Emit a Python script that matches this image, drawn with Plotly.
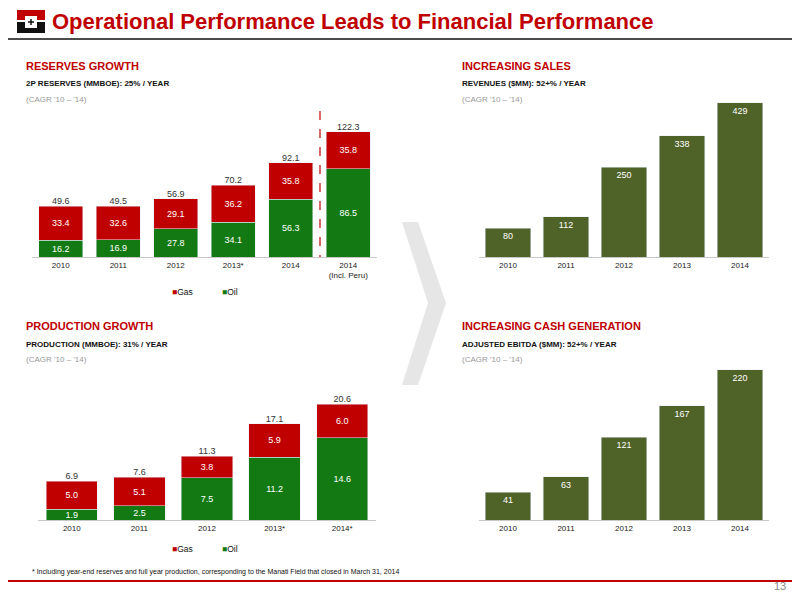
import plotly.graph_objects as go

res_years = ["2010", "2011", "2012", "2013*", "2014", "2014<br>(Incl. Peru)"]
res_oil = [16.2, 16.9, 27.8, 34.1, 56.3, 86.5]
res_gas = [33.4, 32.6, 29.1, 36.2, 35.8, 35.8]
res_tot = [49.6, 49.5, 56.9, 70.2, 92.1, 122.3]

prod_years = ["2010", "2011", "2012", "2013*", "2014*"]
prod_oil = [1.9, 2.5, 7.5, 11.2, 14.6]
prod_gas = [5.0, 5.1, 3.8, 5.9, 6.0]
prod_tot = [6.9, 7.6, 11.3, 17.1, 20.6]

fin_years = ["2010", "2011", "2012", "2013", "2014"]
sales = [80, 112, 250, 338, 429]
ebitda = [41, 63, 121, 167, 220]

RED = "#c00000"; OIL = "#137a13"; OLIVE = "#4f6228"
OFF = 8
W, H = 800 - 2 * OFF, 600 - 2 * OFF
px = lambda x: (x - OFF) / W
py = lambda y: 1 - (y - OFF) / H

fig = go.Figure()

def stacked(xa, ya, cats, oil, gas, tot):
    fig.add_bar(x=cats, y=oil, marker_color=OIL, width=0.76, text=[f"{v:.1f}" for v in oil],
                textposition="inside", insidetextanchor="middle", textfont=dict(color="white", size=9),
                xaxis=xa, yaxis=ya, showlegend=False)
    fig.add_bar(x=cats, y=gas, marker_color=RED, width=0.76, text=[f"{v:.1f}" for v in gas],
                textposition="inside", insidetextanchor="middle", textfont=dict(color="white", size=9),
                xaxis=xa, yaxis=ya, showlegend=False)
    fig.add_scatter(x=cats, y=tot, mode="text", text=[f"{v:.1f}" for v in tot], textposition="top center",
                    textfont=dict(color="#333", size=9), xaxis=xa, yaxis=ya, showlegend=False)

def simple(xa, ya, cats, vals):
    fig.add_bar(x=cats, y=vals, marker_color=OLIVE, width=0.79, text=[str(v) for v in vals],
                textposition="inside", insidetextanchor="end", textfont=dict(color="white", size=9),
                xaxis=xa, yaxis=ya, showlegend=False)

stacked("x", "y", res_years, res_oil, res_gas, res_tot)
simple("x2", "y2", fin_years, sales)
stacked("x3", "y3", prod_years, prod_oil, prod_gas, prod_tot)
simple("x4", "y4", fin_years, ebitda)
fig.update_layout(barmode="stack", uniformtext=dict(minsize=9, mode="show"))

ax = dict(showline=True, linecolor="#c8c8c8", ticks="", tickfont=dict(size=8, color="#222"), fixedrange=True)
ay = dict(visible=False, fixedrange=True)
fig.update_layout(
    xaxis=dict(ax, domain=[px(32), px(377)], anchor="y"),
    yaxis=dict(ay, domain=[py(257), py(110)], range=[0, 143.8], anchor="x"),
    xaxis2=dict(ax, domain=[px(479), px(769)], anchor="y2"),
    yaxis2=dict(ay, domain=[py(257), py(100)], range=[0, 437], anchor="x2"),
    xaxis3=dict(ax, domain=[px(38), px(376)], anchor="y3"),
    yaxis3=dict(ay, domain=[py(520), py(380)], range=[0, 24.9], anchor="x3"),
    xaxis4=dict(ax, domain=[px(479), px(769)], anchor="y4"),
    yaxis4=dict(ay, domain=[py(520), py(365)], range=[0, 227], anchor="x4"),
)

shapes = []
def line(x0, y0, x1, y1, color, w, dash="solid"):
    shapes.append(dict(type="line", xref="paper", yref="paper", x0=px(x0), y0=py(y0), x1=px(x1), y1=py(y1),
                       line=dict(color=color, width=w, dash=dash)))
def rect(x0, y0, x1, y1, color):
    shapes.append(dict(type="rect", xref="paper", yref="paper", x0=px(x0), y0=py(y0), x1=px(x1), y1=py(y1),
                       fillcolor=color, line=dict(width=0)))
line(8, 39, 792, 39, "#111", 1.5)
line(8, 581, 792, 581, RED, 2)
line(320, 111, 320, 257, RED, 1.2, "dash")
# logo
rect(17, 10, 45, 20, RED); rect(17, 22, 45, 33, "#111")
rect(25, 16, 37, 28, "white")
line(28, 22, 34, 22, "#111", 1.5); line(31, 19, 31, 25, "#111", 1.5)
# chevron
shapes.append(dict(type="path", xref="paper", yref="paper",
    path=f"M {px(402)},{py(222)} L {px(418)},{py(222)} L {px(446)},{py(303)} L {px(418)},{py(385)} L {px(402)},{py(385)} L {px(428)},{py(303)} Z",
    fillcolor="#e6e6e6", line=dict(width=0)))
fig.update_layout(shapes=shapes)

ann = []
def txt(x, y, s, size, color="#111", bold=False, anchor="left"):
    ann.append(dict(xref="paper", yref="paper", x=px(x), y=py(y), text=f"<b>{s}</b>" if bold else s,
                    showarrow=False, xanchor=anchor, yanchor="middle", font=dict(size=size, color=color)))
txt(50, 22, "Operational Performance Leads to Financial Performance", 22, RED, True)
for x, y, t1, t2 in [(24, 66, "RESERVES GROWTH", "2P RESERVES (MMBOE): 25% / YEAR"),
                     (460, 66, "INCREASING SALES", "REVENUES ($MM): 52+% / YEAR"),
                     (24, 326, "PRODUCTION GROWTH", "PRODUCTION (MMBOE): 31% / YEAR"),
                     (460, 326, "INCREASING CASH GENERATION", "ADJUSTED EBITDA ($MM): 52+% / YEAR")]:
    txt(x, y, t1, 11, RED, True)
    txt(x, y + 18, t2, 8, "#111", True)
    txt(x, y + 33, "(CAGR '10 – '14)", 8, "#999")
for x, y in [(170, 292), (170, 549)]:
    txt(x, y, f"<span style='color:{RED}'>■</span>Gas", 8.5)
    txt(x + 50, y, f"<span style='color:{OIL}'>■</span>Oil", 8.5)
txt(30, 572, "* Including year-end reserves and full year production, corresponding to the Manati Field that closed in March 31, 2014", 7)
txt(788, 586, "13", 11, "#888", anchor="right")
fig.update_layout(annotations=ann, width=W, height=H, margin=dict(l=0, r=0, t=0, b=0),
                  plot_bgcolor="white", paper_bgcolor="white",
                  font=dict(family="Liberation Sans, Arial, sans-serif"))
fig.write_html("out.html")
